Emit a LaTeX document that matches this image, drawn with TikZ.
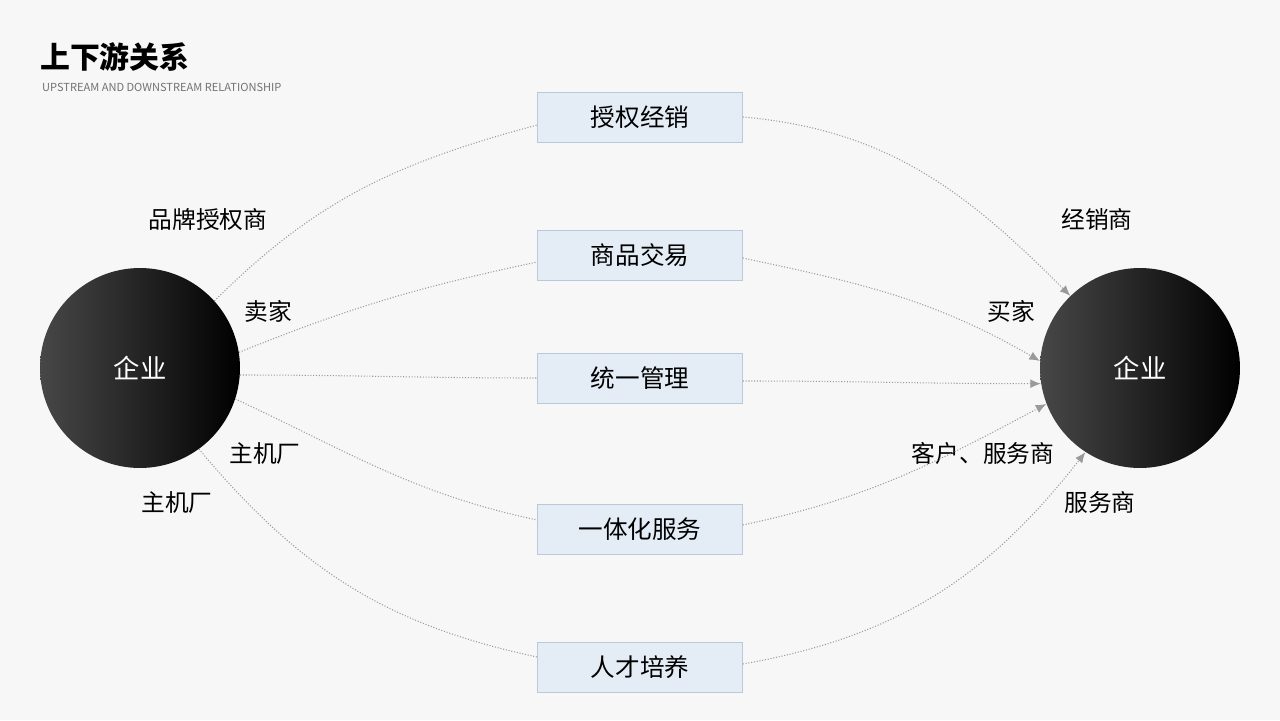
\documentclass[tikz,border=0pt]{standalone}
\usepackage{fontspec}
\setmainfont{Noto Sans CJK SC}
\usetikzlibrary{arrows.meta}
\definecolor{bg}{HTML}{F7F7F7}
\definecolor{boxfill}{HTML}{E4ECF6}
\definecolor{boxline}{HTML}{B9C9DA}
\definecolor{link}{HTML}{9A9A9A}
\begin{document}
\begin{tikzpicture}[x=0.02cm, y=-0.02cm,
                    ent/.style = {circle, minimum size = 4cm, inner sep = 0pt, left color = black!72, right color = black, text = white, font = \fontsize{15}{18}\selectfont},
                    item/.style = {draw = boxline, fill = boxfill, minimum width = 4.1cm, minimum height = 1cm, font = \fontsize{14}{17}\selectfont},
                    role/.style = {font = \fontsize{13.5}{16}\selectfont},
                    link/.style = {draw = link, densely dotted, line width = 0.6pt},
                    arr/.style = {link, -{Latex[length = 6pt, width = 5pt]}}]
      \fill [bg] (0, 0) rectangle (1280, 720);
      \useasboundingbox (0, 0) rectangle (1280, 720);

      \node [anchor = west, font = \fontsize{17}{20}\selectfont\bfseries] (title) at (34, 57) {上下游关系};
      \node [anchor = west, text = black!55, font = \fontsize{6.3}{8}\selectfont] (sub) at (36, 87) {UPSTREAM AND DOWNSTREAM RELATIONSHIP};

      \node [ent] (L) at (140, 368) {企业};
      \node [ent] (R) at (1140, 368) {企业};

      \node [item] (b1) at (640, 117) {授权经销};
      \node [item] (b2) at (640, 255) {商品交易};
      \node [item] (b3) at (640, 378) {统一管理};
      \node [item] (b4) at (640, 529) {一体化服务};
      \node [item] (b5) at (640, 667) {人才培养};

      \node [role] (l1) at (208, 219) {品牌授权商};
      \node [role] (l2) at (268, 311) {卖家};
      \node [role] (l3) at (265, 453) {主机厂};
      \node [role] (l4) at (177, 502) {主机厂};
      \node [role] (r1) at (1097, 219) {经销商};
      \node [role] (r2) at (1011, 311) {买家};
      \node [role] (r3) at (983, 453) {客户、服务商};
      \node [role] (r4) at (1100, 502) {服务商};

      \draw [link] (L.42) to [out = 45, in = 195] ([yshift = -0.16cm] b1.west);
      \draw [link] (L.9) to [out = 22, in = 192] ([yshift = -0.14cm] b2.west);
      \draw [link] (L.-4) to [out = 0, in = 180] (b3.west);
      \draw [link] (L.-18) to [out = -25, in = 168] ([yshift = 0.18cm] b4.west);
      \draw [link] (L.-54) to [out = -50, in = 168] ([yshift = 0.2cm] b5.west);

      \draw [arr] (b1.east) to [out = -5, in = 135] (R.134);
      \draw [arr] ([yshift = -0.06cm] b2.east) to [out = -12, in = 150] (R.176);
      \draw [arr] ([yshift = -0.06cm] b3.east) to [out = 0, in = 180] (R.189);
      \draw [arr] ([yshift = 0.08cm] b4.east) to [out = 12, in = 208] (R.201);
      \draw [arr] ([yshift = 0.06cm] b5.east) to [out = 10, in = 232] (R.237);
\end{tikzpicture}
\end{document}
